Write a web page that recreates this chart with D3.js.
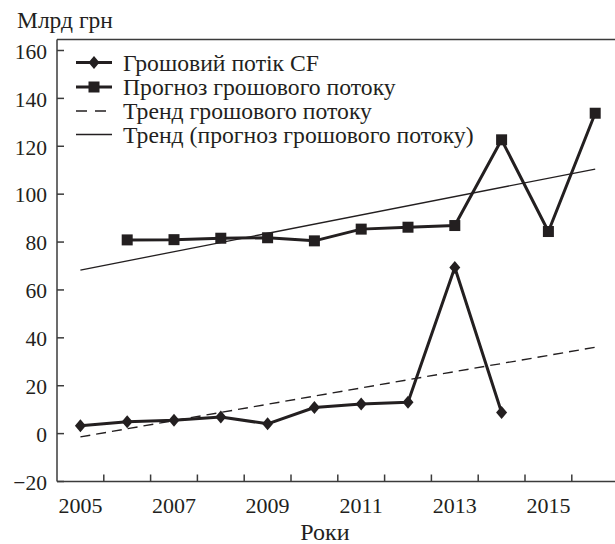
<!DOCTYPE html>
<html><head><meta charset="utf-8">
<script src="https://cdn.jsdelivr.net/npm/d3@7"></script>
<style>
html,body{margin:0;padding:0;background:#fff;}
svg{display:block;}
text{font-family:"Liberation Serif","Times New Roman",serif;fill:#231f20;}
</style></head>
<body>
<svg id="chart" width="615" height="544"></svg>
<script>
// ---- data ----
const years = [2005,2006,2007,2008,2009,2010,2011,2012,2013,2014,2015,2016];
const xTickLabels = [2005,2007,2009,2011,2013,2015];
const yTicks = [-20,0,20,40,60,80,100,120,140,160];
const cfYears = [2005,2006,2007,2008,2009,2010,2011,2012,2013,2014];
const cfValues = [3.3,5.0,5.6,6.9,4.1,10.9,12.4,13.1,69.4,8.8];
const fcYears = [2006,2007,2008,2009,2010,2011,2012,2013,2014,2015,2016];
const fcValues = [80.9,81.0,81.6,81.8,80.5,85.4,86.2,86.9,122.7,84.4,133.8];
const trendCF = [{year:2005, v:-1.4},{year:2016, v:36.1}];
const trendFC = [{year:2005, v:68.3},{year:2016, v:110.5}];
const legendLabels = ["Грошовий потік CF","Прогноз грошового потоку","Тренд грошового потоку","Тренд (прогноз грошового потоку)"];
const yUnit = "Млрд грн";
const xTitle = "Роки";

(function(){
// ---- layout ----
const ink = "#231f20", axisCol = "#3b3b3b";
const svg = d3.select("#chart");
const pLeft = 57, pRight = 618.6, pTop = 39.5, pBottom = 481.5;
const x = d3.scaleBand().domain(years).range([pLeft, pRight]).padding(0);
const cx = d => x(d) + x.bandwidth()/2;
const y = d3.scaleLinear().domain([-20,160]).range([481.5, 50.5]);

// frame
svg.append("line").attr("x1",pLeft).attr("x2",615).attr("y1",pTop).attr("y2",pTop)
  .attr("stroke",axisCol).attr("stroke-width",1.5);
svg.append("line").attr("x1",pLeft).attr("x2",pLeft).attr("y1",pTop).attr("y2",pBottom)
  .attr("stroke",axisCol).attr("stroke-width",1.5);
svg.append("line").attr("x1",pLeft).attr("x2",615).attr("y1",pBottom).attr("y2",pBottom)
  .attr("stroke",axisCol).attr("stroke-width",1.5);

// y axis
const yAxis = d3.axisLeft(y).tickValues(yTicks).tickSize(0).tickPadding(10)
  .tickFormat(d => d < 0 ? "\u2212" + Math.abs(d) : d);
const gy = svg.append("g").attr("transform",`translate(${pLeft},0)`).call(yAxis);
gy.select(".domain").remove();
gy.selectAll("text").attr("font-size",21.5).attr("fill",ink)
  .attr("font-family",'"Liberation Serif",serif').attr("dy","0.36em");
svg.append("g").selectAll("line").data(yTicks).join("line")
  .attr("x1",pLeft).attr("x2",pLeft+7).attr("y1",d=>y(d)).attr("y2",d=>y(d))
  .attr("stroke",axisCol).attr("stroke-width",1.5);

// x axis labels
const xAxis = d3.axisBottom(x).tickValues(xTickLabels).tickSize(0).tickPadding(16);
const gx = svg.append("g").attr("transform",`translate(0,${pBottom})`).call(xAxis);
gx.select(".domain").remove();
gx.selectAll("text").attr("font-size",22).attr("fill",ink)
  .attr("font-family",'"Liberation Serif",serif');
svg.append("g").selectAll("line").data(years.slice(1)).join("line")
  .attr("x1",d=>x(d)).attr("x2",d=>x(d)).attr("y1",pBottom).attr("y2",pBottom-7)
  .attr("stroke",axisCol).attr("stroke-width",1.5);

// titles
svg.append("text").attr("x",17).attr("y",28).attr("font-size",23.5).text(yUnit);
svg.append("text").attr("x",325).attr("y",540).attr("text-anchor","middle").attr("font-size",24).text(xTitle);

// trend lines
const tline = d3.line().x(d=>cx(d.year)).y(d=>y(d.v));
svg.append("path").attr("d",tline(trendCF)).attr("fill","none").attr("stroke",ink)
  .attr("stroke-width",1.3).attr("stroke-dasharray","10,6");
svg.append("path").attr("d",tline(trendFC)).attr("fill","none").attr("stroke",ink)
  .attr("stroke-width",1.3);

// series
const sline = d3.line().x(d=>cx(d[0])).y(d=>y(d[1]));
const cf = cfYears.map((d,i)=>[d,cfValues[i]]);
const fc = fcYears.map((d,i)=>[d,fcValues[i]]);
svg.append("path").attr("d",sline(cf)).attr("fill","none").attr("stroke",ink).attr("stroke-width",3).attr("stroke-linejoin","round");
svg.append("path").attr("d",sline(fc)).attr("fill","none").attr("stroke",ink).attr("stroke-width",3).attr("stroke-linejoin","round");

const diamond = (px,py,w=11,h=13) => `M${px},${py-h/2}L${px+w/2},${py}L${px},${py+h/2}L${px-w/2},${py}Z`;
svg.append("g").selectAll("path").data(cf).join("path")
  .attr("d",d=>diamond(cx(d[0]),y(d[1]))).attr("fill",ink);
svg.append("g").selectAll("rect").data(fc).join("rect")
  .attr("x",d=>cx(d[0])-5.5).attr("y",d=>y(d[1])-5.5).attr("width",11).attr("height",11).attr("fill",ink);

// legend
const lg = svg.append("g");
const rows = [62.5, 87, 111, 134.5];
const lx1 = 76, lx2 = 112, lxm = 94;
lg.append("line").attr("x1",lx1).attr("x2",lx2).attr("y1",rows[0]).attr("y2",rows[0]).attr("stroke",ink).attr("stroke-width",3);
lg.append("path").attr("d",diamond(lxm,rows[0])).attr("fill",ink);
lg.append("line").attr("x1",lx1).attr("x2",lx2).attr("y1",rows[1]).attr("y2",rows[1]).attr("stroke",ink).attr("stroke-width",3);
lg.append("rect").attr("x",lxm-5.5).attr("y",rows[1]-5.5).attr("width",11).attr("height",11).attr("fill",ink);
lg.append("line").attr("x1",lx1).attr("x2",lx2).attr("y1",rows[2]).attr("y2",rows[2]).attr("stroke",ink).attr("stroke-width",1.3).attr("stroke-dasharray","11,8");
lg.append("line").attr("x1",lx1).attr("x2",lx2).attr("y1",rows[3]).attr("y2",rows[3]).attr("stroke",ink).attr("stroke-width",1.3);
lg.selectAll("text").data(legendLabels).join("text")
  .attr("x",123).attr("y",(d,i)=>rows[i]+8).attr("font-size",23.7).text(d=>d);
})();
</script>
</body></html>
